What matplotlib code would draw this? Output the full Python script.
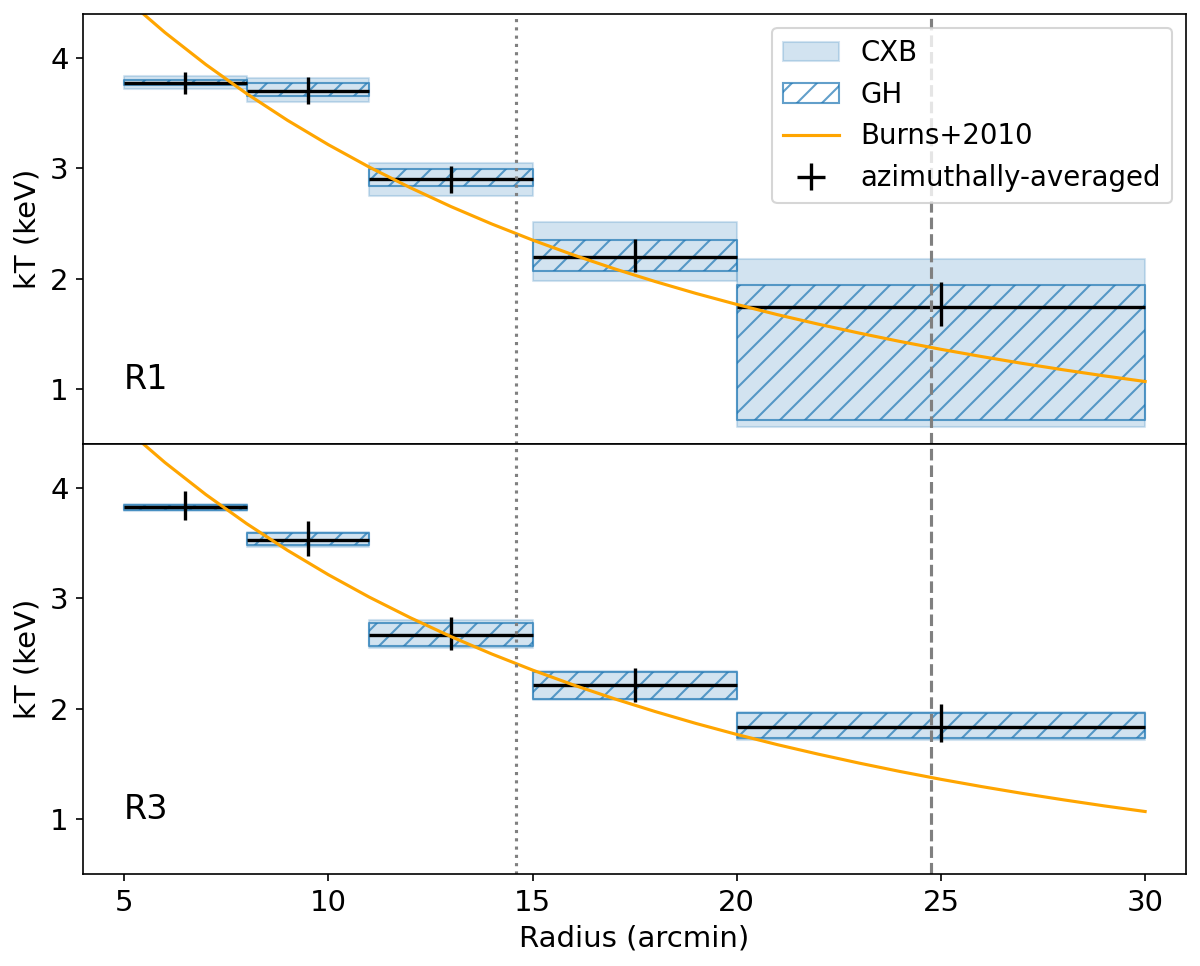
import numpy as np
import matplotlib
matplotlib.use("Agg")
import matplotlib.pyplot as plt
from matplotlib.patches import Patch
from matplotlib.lines import Line2D

plt.rcParams['font.size'] = 14

# radial bins (arcmin)
r_lo = [5, 8, 11, 15, 20]
r_hi = [8, 11, 15, 20, 30]

# R1: azimuthally-averaged kT and its error range
kt_r1 = [3.77, 3.70, 2.90, 2.20, 1.74]
kt_r1_lo = [3.67, 3.58, 2.78, 2.06, 1.57]
kt_r1_hi = [3.87, 3.83, 3.02, 2.36, 1.97]
cxb_r1_lo = [3.72, 3.60, 2.75, 1.98, 0.65]
cxb_r1_hi = [3.84, 3.82, 3.05, 2.51, 2.18]
gh_r1_lo = [3.76, 3.66, 2.84, 2.07, 0.72]
gh_r1_hi = [3.80, 3.77, 2.99, 2.35, 1.94]

# R3
kt_r3 = [3.83, 3.53, 2.67, 2.21, 1.83]
kt_r3_lo = [3.71, 3.38, 2.53, 2.06, 1.70]
kt_r3_hi = [3.97, 3.70, 2.83, 2.37, 2.04]
cxb_r3_lo = [3.79, 3.47, 2.55, 2.08, 1.72]
cxb_r3_hi = [3.86, 3.60, 2.80, 2.34, 1.97]
gh_r3_lo = [3.80, 3.48, 2.57, 2.09, 1.73]
gh_r3_hi = [3.85, 3.59, 2.78, 2.33, 1.96]

# Burns+2010 profile
burns_r = [5, 6, 7, 8, 9, 10, 11, 12, 13, 14, 15, 16, 17, 18, 19, 20,
           21, 22, 23, 24, 25, 26, 27, 28, 29, 30]
burns_kt = [4.551, 4.232, 3.942, 3.678, 3.436, 3.215, 3.012, 2.826, 2.654,
            2.496, 2.350, 2.215, 2.090, 1.974, 1.866, 1.766, 1.673, 1.587,
            1.506, 1.430, 1.359, 1.293, 1.231, 1.173, 1.118, 1.067]

r500 = 14.6
r200 = 24.75

panels = [
    ("R1", kt_r1, kt_r1_lo, kt_r1_hi, cxb_r1_lo, cxb_r1_hi, gh_r1_lo, gh_r1_hi),
    ("R3", kt_r3, kt_r3_lo, kt_r3_hi, cxb_r3_lo, cxb_r3_hi, gh_r3_lo, gh_r3_hi),
]

fig, axes = plt.subplots(2, 1, figsize=(8, 6.44), dpi=150, sharex=True)
fig.subplots_adjust(left=0.0694, right=0.9883, top=0.9855, bottom=0.0952, hspace=0)

r_lo_a = np.array(r_lo)
r_hi_a = np.array(r_hi)
r_mid = (r_lo_a + r_hi_a) / 2.0
r_half = (r_hi_a - r_lo_a) / 2.0

for ax, (name, kt, klo, khi, clo, chi, glo, ghi) in zip(axes, panels):
    for i in range(len(r_lo)):
        ax.fill_between([r_lo[i], r_hi[i]], clo[i], chi[i], color="C0", alpha=0.2, lw=1)
        ax.fill_between([r_lo[i], r_hi[i]], glo[i], ghi[i], facecolor="none",
                        edgecolor="C0", hatch="//", alpha=0.7, lw=1)
    kt_a = np.array(kt)
    yerr = [kt_a - np.array(klo), np.array(khi) - kt_a]
    ax.errorbar(r_mid, kt_a, xerr=r_half, yerr=yerr, fmt="none", ecolor="k", elinewidth=1.6)
    ax.plot(burns_r, burns_kt, color="orange", lw=1.5)
    ax.axvline(r500, color="gray", ls=":", lw=1.5)
    ax.axvline(r200, color="gray", ls="--", lw=1.5)
    ax.text(5, 1.0, name, fontsize=16)
    ax.set_ylabel("kT (keV)")
    ax.set_ylim(0.5, 4.4)
    ax.set_yticks([1, 2, 3, 4])

axes[1].set_xlim(4, 31)
axes[1].set_xticks([5, 10, 15, 20, 25, 30])
axes[1].set_xlabel("Radius (arcmin)")

# legend handles
h_cxb = Patch(facecolor="C0", edgecolor="C0", alpha=0.2, label="CXB")
h_gh = Patch(facecolor="none", edgecolor="C0", hatch="//", alpha=0.7, label="GH")
h_burns = Line2D([], [], color="orange", lw=1.5, label="Burns+2010")
h_az = axes[0].errorbar([], [], xerr=[], yerr=[], fmt="none", ecolor="k",
                        elinewidth=1.6, label="azimuthally-averaged")
axes[0].legend(handles=[h_cxb, h_gh, h_burns, h_az], loc="upper right", fontsize=13.25)

fig.savefig("out.png")
